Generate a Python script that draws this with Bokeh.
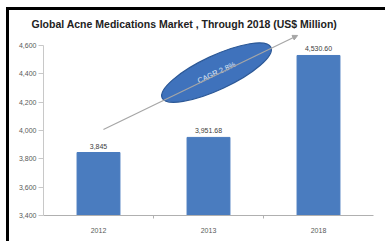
from bokeh.plotting import figure
from bokeh.layouts import column
from bokeh.models import (ColumnDataSource, FixedTicker, NumeralTickFormatter, Arrow, NormalHead,
                          Title, Range1d)
from bokeh.core.properties import value
from bokeh.embed import file_html
from bokeh.resources import INLINE
import math

# ---- data ----
years = ["2012", "2013", "2018"]
market = [3845.0, 3951.68, 4530.60]
bar_labels = ["3,845", "3,951.68", "4,530.60"]
y_ticks = [3400, 3600, 3800, 4000, 4200, 4400, 4600]
cagr_text = "CAGR 2.8%"
title_text = "Global Acne Medications Market , Through 2018 (US$ Million)"

FONT = "Liberation Sans"
BAR = "#4a7cbf"

xpos = [i + 0.5 for i in range(len(years))]
bounds_x = [i for i in range(1, len(years))]

p = figure(x_range=Range1d(0, len(years)), y_range=(3400, 4700), width=376, height=231,
           output_backend="svg", toolbar_location=None,
           min_border_left=34, min_border_right=12, min_border_top=21, min_border_bottom=26)
p.background_fill_color = "white"
p.border_fill_color = "white"
p.outline_line_color = None
p.xgrid.grid_line_color = None
p.ygrid.grid_line_color = None

t = Title(text=title_text, align="left", offset=-12, standoff=0, vertical_align="top",
          text_font=FONT, text_font_size="10.5px", text_font_style="bold", text_color="#222222")
p.add_layout(t, "above")

src = ColumnDataSource(dict(x=xpos, top=market, lab=bar_labels))
p.vbar(x="x", top="top", bottom=3400, width=0.39, source=src, fill_color=BAR, line_color=BAR)
p.text(x="x", y="top", text="lab", source=src, text_align="center", text_baseline="bottom",
       y_offset=-4, text_font=value(FONT), text_font_size="7px", text_color="#404040")

# CAGR arrow
arr = Arrow(end=NormalHead(size=5, fill_color="#a6a6a6", line_color="#a6a6a6"),
            x_start=0.545, y_start=4008, x_end=2.31, y_end=4672,
            line_color="#a6a6a6", line_width=1.2)
p.add_layout(arr)

ang = math.radians(25)
p.ellipse(x=[1.573], y=[4410], width=120, height=34, width_units="screen", height_units="screen",
          angle=ang, fill_color="#3f72bc", line_color="#2c5896", line_width=1.2)
p.text(x=[1.573], y=[4410], text=[cagr_text], angle=ang, text_align="center", text_baseline="middle",
       text_font=value(FONT), text_font_size="7.5px", text_color="#dfe7f5")

# axes
p.yaxis.ticker = FixedTicker(ticks=y_ticks)
p.yaxis.formatter = NumeralTickFormatter(format="0,0")
p.yaxis.bounds = (3400, 4600)
p.yaxis.axis_line_color = "#c8c8c8"
p.yaxis.major_tick_line_color = "#c8c8c8"
p.yaxis.major_tick_out = 5
p.yaxis.major_tick_in = 0
p.yaxis.minor_tick_line_color = None
p.yaxis.major_label_text_font = FONT
p.yaxis.major_label_text_font_size = "7px"
p.yaxis.major_label_text_color = "#595959"
p.yaxis.major_label_standoff = 2

p.xaxis.ticker = FixedTicker(ticks=xpos, minor_ticks=bounds_x)
p.xaxis.major_label_overrides = {x: y for x, y in zip(xpos, years)}
p.xaxis.axis_line_color = "#b0b0b0"
p.xaxis.major_tick_line_color = None
p.xaxis.major_tick_out = 0
p.xaxis.major_tick_in = 0
p.xaxis.minor_tick_line_color = "#b0b0b0"
p.xaxis.minor_tick_out = 3
p.xaxis.minor_tick_in = 0
p.xaxis.major_label_text_font = FONT
p.xaxis.major_label_text_font_size = "7px"
p.xaxis.major_label_text_color = "#595959"
p.xaxis.major_label_standoff = 9

layout = column(p, styles={"border-left": "3px solid black", "border-top": "3px solid black",
                           "margin-left": "6px", "margin-top": "7px"})

open("out.html", "w").write(file_html(layout, INLINE))
